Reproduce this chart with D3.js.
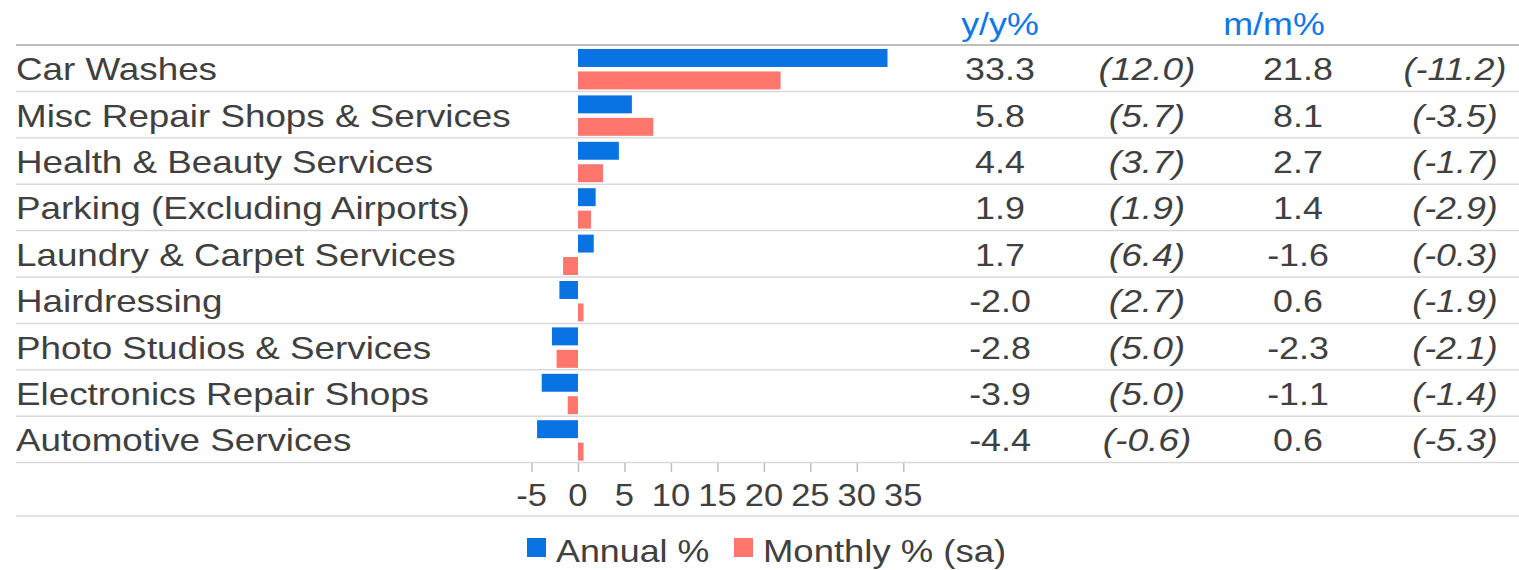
<!DOCTYPE html>
<html>
<head>
<meta charset="utf-8">
<script src="https://cdn.jsdelivr.net/npm/d3@7"></script>
<style>
  html, body { margin: 0; padding: 0; background: #fff; }
  svg { display: block; }
  text { font-family: "Liberation Sans", Arial, sans-serif; }
</style>
</head>
<body>
<svg id="chart" width="1519" height="570"></svg>
<script>
const categories = [
  "Car Washes",
  "Misc Repair Shops & Services",
  "Health & Beauty Services",
  "Parking (Excluding Airports)",
  "Laundry & Carpet Services",
  "Hairdressing",
  "Photo Studios & Services",
  "Electronics Repair Shops",
  "Automotive Services"
];
const annual  = [33.3, 5.8, 4.4, 1.9, 1.7, -2.0, -2.8, -3.9, -4.4];
const monthly = [21.8, 8.1, 2.7, 1.4, -1.6, 0.6, -2.3, -1.1, 0.6];
const annualPrev  = [12.0, 5.7, 3.7, 1.9, 6.4, 2.7, 5.0, 5.0, -0.6];
const monthlyPrev = [-11.2, -3.5, -1.7, -2.9, -0.3, -1.9, -2.1, -1.4, -5.3];
const xTicks = [-5, 0, 5, 10, 15, 20, 25, 30, 35];
const columnHeaders = ["y/y%", "m/m%"];
const seriesNames = ["Annual %", "Monthly % (sa)"];

const BLUE = "#0A73E4", RED = "#FF766C", TEXT = "#404040", HEAD = "#1078E6";
const FS = 32, SX = 1.12;

const svg = d3.select("#chart");

function stext(g, x, y, str, opts = {}) {
  const sx = opts.sx || SX;
  return g.append("text")
    .attr("transform", `translate(${x},${y}) scale(${sx},1)`)
    .attr("text-anchor", opts.anchor || "start")
    .attr("font-size", opts.size || FS)
    .attr("font-style", opts.italic ? "italic" : "normal")
    .attr("fill", opts.fill || TEXT)
    .text(str);
}

const x = d3.scaleLinear().domain([-5, 35]).range([531.5, 903.3]);
const y = d3.scaleBand().domain(categories).range([45, 462.6]).padding(0);
const inner = d3.scaleBand().domain(["annual", "monthly"]).range([4, 44.4]).paddingInner(0.2);

// row lines
const lineYs = categories.map(c => y(c)).concat([y.range()[1]]);
svg.append("g").selectAll("line").data(lineYs).join("line")
  .attr("x1", 16).attr("x2", 1519)
  .attr("y1", d => d).attr("y2", d => d)
  .attr("stroke", (d, i) => i === 0 ? "#BDBDBD" : "#D9D9D9")
  .attr("stroke-width", (d, i) => i === 0 ? 2 : 1.5);
svg.append("line").attr("x1", 16).attr("x2", 1519).attr("y1", 516).attr("y2", 516)
  .attr("stroke", "#D9D9D9").attr("stroke-width", 1.5);

// bars
const rows = categories.map((c, i) => ({ c, a: annual[i], m: monthly[i] }));
const bars = svg.append("g");
bars.selectAll("rect.a").data(rows).join("rect").attr("class", "a")
  .attr("x", d => x(Math.min(0, d.a))).attr("width", d => Math.abs(x(d.a) - x(0)))
  .attr("y", d => y(d.c) + inner("annual")).attr("height", inner.bandwidth())
  .attr("fill", BLUE);
bars.selectAll("rect.m").data(rows).join("rect").attr("class", "m")
  .attr("x", d => x(Math.min(0, d.m))).attr("width", d => Math.abs(x(d.m) - x(0)))
  .attr("y", d => y(d.c) + inner("monthly")).attr("height", inner.bandwidth())
  .attr("fill", RED);

// category labels
const lab = svg.append("g");
categories.forEach(c => stext(lab, 16, y(c) + y.bandwidth() / 2 + 12, c, { sx: 1.15 }));

// table columns
const cols = [1000, 1147, 1298, 1455];
const tbl = svg.append("g");
categories.forEach((c, i) => {
  const by = y(c) + y.bandwidth() / 2 + 12;
  stext(tbl, cols[0], by, annual[i].toFixed(1), { anchor: "middle" });
  stext(tbl, cols[1], by, "(" + annualPrev[i].toFixed(1) + ")", { anchor: "middle", italic: true, sx: 1.16 });
  stext(tbl, cols[2], by, monthly[i].toFixed(1), { anchor: "middle" });
  stext(tbl, cols[3], by, "(" + monthlyPrev[i].toFixed(1) + ")", { anchor: "middle", italic: true });
});
stext(tbl, 1000, 35, columnHeaders[0], { anchor: "middle", fill: HEAD });
stext(tbl, 1274, 35, columnHeaders[1], { anchor: "middle", fill: HEAD });

// x axis
const axisG = svg.append("g").attr("transform", "translate(0,463)")
  .call(d3.axisBottom(x).tickValues(xTicks).tickSize(9).tickFormat(""));
axisG.select(".domain").remove();
axisG.selectAll(".tick line").attr("stroke", "#BFBFBF").attr("stroke-width", 1.5);
xTicks.forEach(t => stext(svg, x(t), 506, String(t), { anchor: "middle", sx: 1.08 }));

// legend
const leg = svg.append("g");
leg.append("rect").attr("x", 527).attr("y", 538).attr("width", 19).attr("height", 19).attr("fill", BLUE);
stext(leg, 556, 562, seriesNames[0]);
leg.append("rect").attr("x", 734).attr("y", 538).attr("width", 19).attr("height", 19).attr("fill", RED);
stext(leg, 763, 562, seriesNames[1], { sx: 1.14 });
</script>
</body>
</html>
